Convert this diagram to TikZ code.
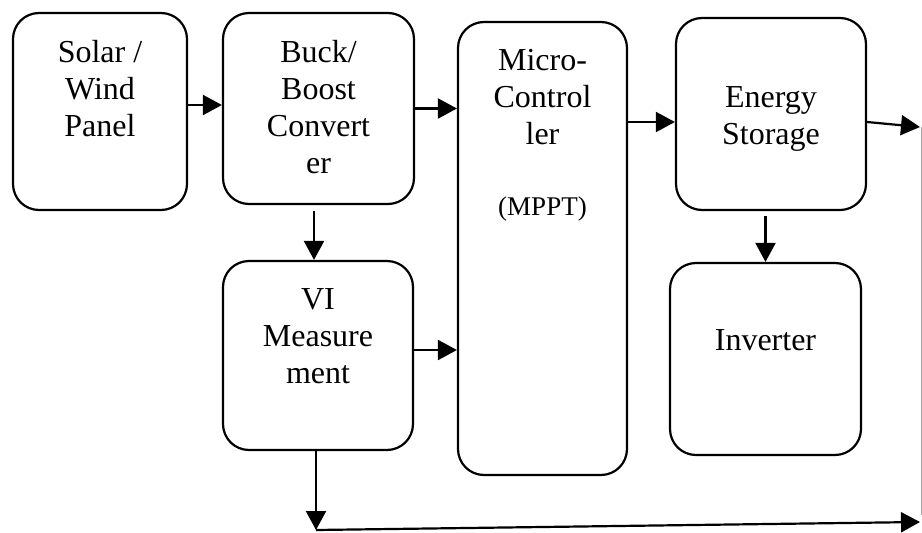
\documentclass[tikz,border=0pt]{standalone}
\usepackage{fontspec}
\setmainfont{Liberation Serif}
\usetikzlibrary{arrows.meta}

\begin{document}
\begin{tikzpicture}[x=1pt,y=-1pt,
  blk/.style={draw, line width=2.2pt, rounded corners=26pt, inner sep=0pt},
  txt/.style={anchor=north, align=center, inner sep=0pt, font=\fontsize{32}{37}\selectfont},
  arr/.style={line width=2.2pt, -{Triangle[length=19pt,width=20pt]}}]

  \useasboundingbox (0,0) rectangle (922,533);

  % blocks
  \node[blk, minimum width=174pt, minimum height=197pt] (solar) at (100,111.5) {};
  \node[blk, minimum width=191pt, minimum height=191pt] (buck)  at (318.5,108.5) {};
  \node[blk, minimum width=169pt, minimum height=453pt] (micro) at (542.5,248.5) {};
  \node[blk, minimum width=190pt, minimum height=192pt] (store) at (771,114) {};
  \node[blk, minimum width=190pt, minimum height=189pt] (vi)    at (318,355.5) {};
  \node[blk, minimum width=191pt, minimum height=192pt] (inv)   at (765.5,359) {};

  % labels
  \node[txt] (solarT) at ([yshift=-28pt]solar.north) {Solar /\\Wind\\Panel};
  \node[txt] (buckT)  at ([yshift=-28pt]buck.north)  {Buck/\\Boost\\Convert\\er};
  \node[txt] (microT) at ([yshift=-28pt]micro.north)
    {Micro-\\Control\\ler\\[34pt]{\fontsize{27}{31}\selectfont(MPPT)}};
  \node[txt] (storeT) at ([yshift=-69pt]store.north) {Energy\\Storage};
  \node[txt] (viT)    at ([yshift=-28pt]vi.north)    {VI\\Measure\\ment};
  \node[txt] (invT)   at ([yshift=-67pt]inv.north)   {Inverter};

  % free ends
  \coordinate (e1)   at ([yshift=-8pt]store.west);
  \coordinate (v1)   at ([yshift=5.5pt]vi.east);
  \coordinate (out1) at (920,127);
  \coordinate (bus)  at (316,530);
  \coordinate (out2) at (920,522);
  \coordinate (rtop) at (921,127);
  \coordinate (rbot) at (921,515);

  \draw[arr] ([yshift=6.5pt]solar.east) -- ([yshift=3.5pt]buck.west);
  \draw[arr] (buck.east) -- (buck.east -| micro.west);
  \draw[arr] (micro.east |- e1) -- (e1);
  \draw[arr] ([yshift=-8pt]store.east) -- (out1);
  \draw[arr] (v1) -- (v1 -| micro.west);

  \draw[arr, shorten <=6pt] ([xshift=-4.5pt]buck.south) -- ([xshift=-4pt]vi.north);
  \draw[arr, shorten <=5pt] (store.south -| inv.north) -- (inv.north);

  \draw[arr] (vi.south -| bus) -- (bus);
  \draw[arr] (bus) -- (out2);
  \draw[gray!70, line width=0.8pt] (rtop) -- (rbot);
\end{tikzpicture}
\end{document}
